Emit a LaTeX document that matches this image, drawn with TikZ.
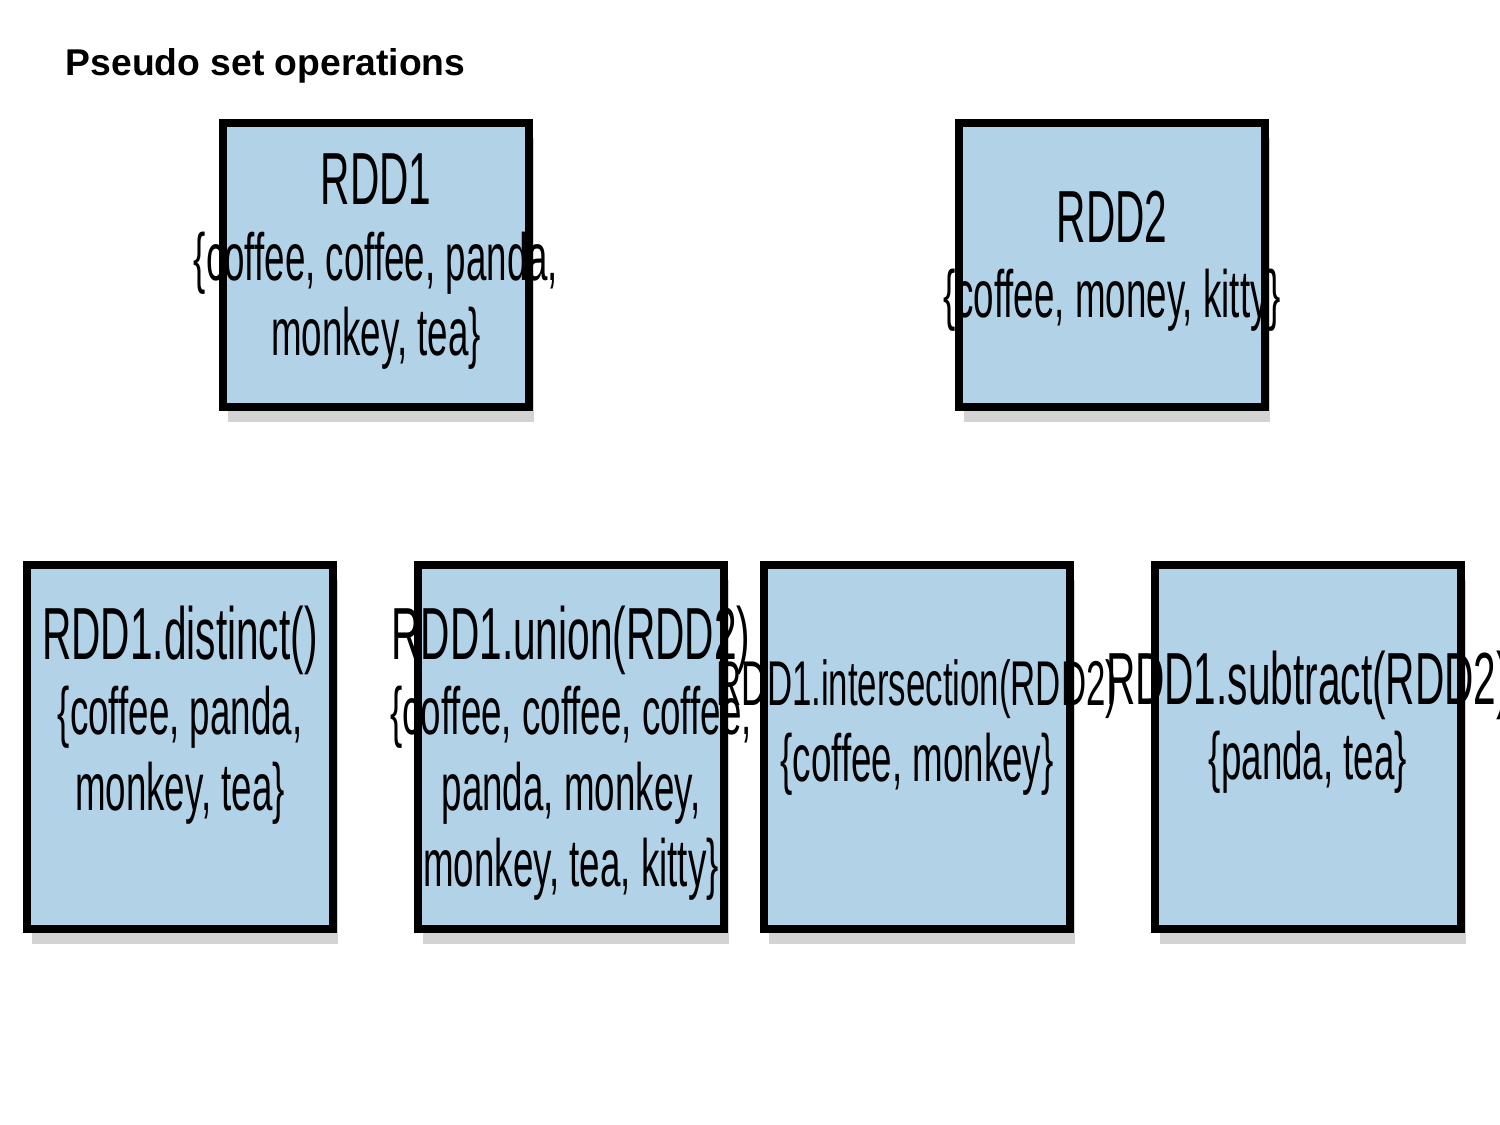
\documentclass[tikz,border=0pt]{standalone}
\usepackage{fontspec}
\setmainfont{Liberation Sans}
\usetikzlibrary{positioning,shadows}
\definecolor{boxblue}{RGB}{178,210,232}
\newcommand{\squeezed}[1]{\scalebox{0.55}[1]{\begin{tabular}{@{}c@{}}#1\end{tabular}}}
\begin{document}
\begin{tikzpicture}[x=0.01cm,y=-0.01cm,
    box/.style={draw,line width=2.2pt,fill=boxblue,minimum width=3.06cm,
      drop shadow={shadow xshift=0.5mm,shadow yshift=-1.5mm,opacity=0.35}},
    tall/.style={box,minimum height=2.84cm},
    deep/.style={box,minimum height=3.64cm},
    txt/.style={align=center,inner sep=0pt,font=\fontsize{19}{21.5}\selectfont}
  ]
  \useasboundingbox (0,0) rectangle (1500,1125);
  \node[anchor=west,inner sep=0pt,font=\bfseries\fontsize{10.6}{12}\selectfont] (title) at (65,66) {Pseudo set operations};
  % input sets
  \node[tall] (rdda) at (376,265) {};
  \node[tall] (rddb) at (1112,265) {};
  \node[txt] (ta) at (rdda) {\squeezed{{\fontsize{21}{21}\selectfont RDD1}\\\{coffee, coffee, panda,\\monkey, tea\}}};
  \node[txt] (tb) at (rddb) {\squeezed{{\fontsize{21}{21}\selectfont RDD2}\\\{coffee, money, kitty\}}};
  % results
  \node[deep] (dist) at (180,747) {};
  \node[deep] (unio) at (571,747) {};
  \node[deep] (inter) at (917,747) {};
  \node[deep] (subt) at (1308,747) {};
  \node[txt,anchor=north] (td) at (180,605) {\squeezed{{\fontsize{21}{21}\selectfont RDD1.distinct()}\\\{coffee, panda,\\monkey, tea\}}};
  \node[txt,anchor=north] (tu) at (571,605) {\squeezed{{\fontsize{21}{21}\selectfont RDD1.union(RDD2)}\\\{coffee, coffee, coffee,\\panda, monkey,\\monkey, tea, kitty\}}};
  \node[txt,anchor=north] (ti) at (917,652) {\squeezed{{\fontsize{18}{21}\selectfont RDD1.intersection(RDD2)}\\\{coffee, monkey\}}};
  \node[txt,anchor=north] (ts) at (1308,650) {\squeezed{{\fontsize{21}{21}\selectfont RDD1.subtract(RDD2)}\\\{panda, tea\}}};
\end{tikzpicture}
\end{document}
